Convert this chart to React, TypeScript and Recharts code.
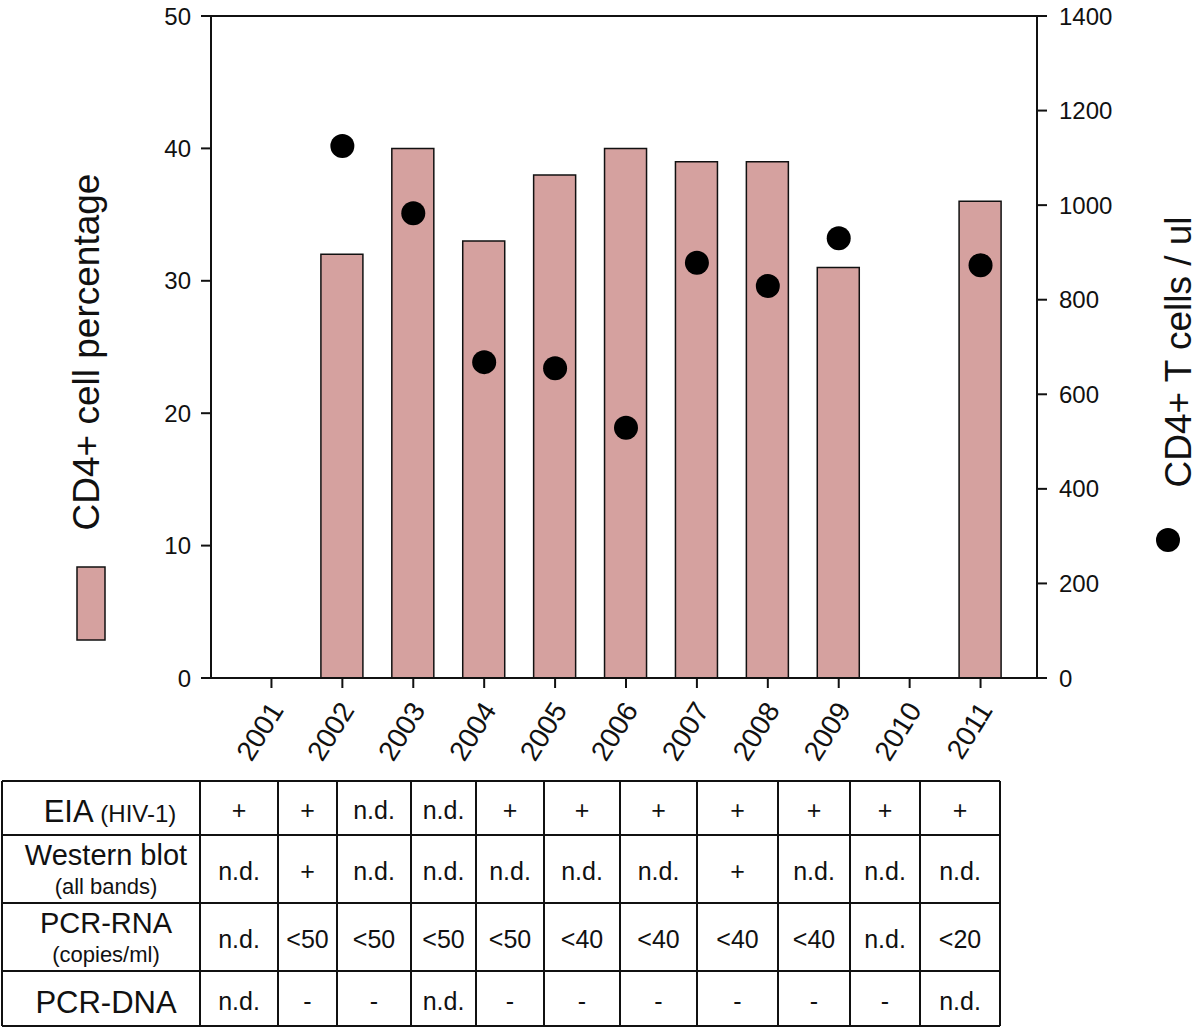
import { Bar, ComposedChart, Line, ReferenceLine, XAxis, YAxis } from 'recharts'

const years = ['2001', '2002', '2003', '2004', '2005', '2006', '2007', '2008', '2009', '2010', '2011']
const cd4Percent = [null, 32, 40, 33, 38, 40, 39, 39, 31, null, 36]
const cd4Cells = [null, 1125, 983, 668, 655, 529, 878, 829, 930, null, 873]

const leftTicks = [0, 10, 20, 30, 40, 50]
const rightTicks = [0, 200, 400, 600, 800, 1000, 1200, 1400]

// table under the chart
const rowLabels = [
  { main: 'EIA', sub: '(HIV-1)', inline: true },
  { main: 'Western blot', sub: '(all bands)', inline: false },
  { main: 'PCR-RNA', sub: '(copies/ml)', inline: false },
  { main: 'PCR-DNA', sub: '', inline: false },
]
const eiaRow = ['+', '+', 'n.d.', 'n.d.', '+', '+', '+', '+', '+', '+', '+']
const westernRow = ['n.d.', '+', 'n.d.', 'n.d.', 'n.d.', 'n.d.', 'n.d.', '+', 'n.d.', 'n.d.', 'n.d.']
const pcrRnaRow = ['n.d.', '<50', '<50', '<50', '<50', '<40', '<40', '<40', '<40', 'n.d.', '<20']
const pcrDnaRow = ['n.d.', '-', '-', 'n.d.', '-', '-', '-', '-', '-', '-', 'n.d.']
const tableRows = [eiaRow, westernRow, pcrRnaRow, pcrDnaRow]

const FONT = '"Liberation Sans", Arial, Helvetica, sans-serif'
const INK = '#111'
const BAR_FILL = '#d5a19f'

const colEdges = [2, 200, 278, 337, 411, 476, 544, 620, 697, 778, 850, 920, 1000]
const rowEdges = [781, 835, 903, 971, 1026]

const chartData = years.map((year, i) => ({ year, pct: cd4Percent[i], cells: cd4Cells[i] }))

function XTick(props: { x?: number; y?: number; payload?: { value?: string } }) {
  const x = (props.x ?? 0) + 13
  const y = (props.y ?? 0) + 20
  return (
    <text
      x={x}
      y={y}
      transform={`rotate(-58 ${x} ${y})`}
      textAnchor="end"
      fill={INK}
      fontSize={28}
      fontFamily={FONT}
    >
      {props.payload?.value}
    </text>
  )
}

function DataTable() {
  return (
    <g fontFamily={FONT} fill={INK}>
      {rowEdges.map((y, i) => (
        <line key={'h' + i} x1={colEdges[0]} x2={colEdges[colEdges.length - 1]} y1={y} y2={y} stroke={INK} strokeWidth={2} />
      ))}
      {colEdges.map((x, i) => (
        <line key={'v' + i} x1={x} x2={x} y1={rowEdges[0]} y2={rowEdges[rowEdges.length - 1]} stroke={INK} strokeWidth={2} />
      ))}
      {rowLabels.map((lab, r) => {
        const top = rowEdges[r]
        const bottom = rowEdges[r + 1]
        const cx = 106
        if (lab.inline) {
          return (
            <text key={'l' + r} x={cx + 4} y={top + 41} textAnchor="middle" fontSize={31}>
              {lab.main}
              <tspan fontSize={24}>{' ' + lab.sub}</tspan>
            </text>
          )
        }
        if (!lab.sub) {
          return (
            <text key={'l' + r} x={cx} y={(top + bottom) / 2 + 14} textAnchor="middle" fontSize={31}>
              {lab.main}
            </text>
          )
        }
        return (
          <g key={'l' + r}>
            <text x={cx} y={top + 30} textAnchor="middle" fontSize={29}>{lab.main}</text>
            <text x={cx} y={top + 59} textAnchor="middle" fontSize={22}>{lab.sub}</text>
          </g>
        )
      })}
      {tableRows.map((row, r) =>
        row.map((v, c) => {
          const cx = (colEdges[c + 1] + colEdges[c + 2]) / 2
          const cy = (rowEdges[r] + rowEdges[r + 1]) / 2
          return (
            <text key={r + '-' + c} x={cx} y={cy + 11} textAnchor="middle" fontSize={25}>
              {v}
            </text>
          )
        }),
      )}
    </g>
  )
}

export default function App() {
  return (
    <div style={{ position: 'absolute', left: 0, top: 0, width: 1200, height: 1028, background: '#fff', fontFamily: FONT }}>
      <ComposedChart
        width={1200}
        height={780}
        data={chartData}
        margin={{ top: 16, right: 0, bottom: 0, left: 0 }}
      >
        <XAxis
          dataKey="year"
          height={102}
          padding={{ left: 25, right: 21 }}
          axisLine={{ stroke: INK, strokeWidth: 2 }}
          tickLine={{ stroke: INK, strokeWidth: 2 }}
          tickSize={10}
          tick={<XTick />}
          interval={0}
        />
        <YAxis
          yAxisId="left"
          domain={[0, 50]}
          ticks={leftTicks}
          width={211}
          axisLine={{ stroke: INK, strokeWidth: 2 }}
          tickLine={{ stroke: INK, strokeWidth: 2 }}
          tickSize={10}
          tickMargin={10}
          tick={{ fill: INK, fontSize: 24, fontFamily: FONT }}
        />
        <YAxis
          yAxisId="right"
          orientation="right"
          domain={[0, 1400]}
          ticks={rightTicks}
          width={163}
          axisLine={{ stroke: INK, strokeWidth: 2 }}
          tickLine={{ stroke: INK, strokeWidth: 2 }}
          tickSize={10}
          tickMargin={12}
          tick={{ fill: INK, fontSize: 24, fontFamily: FONT }}
        />
        <ReferenceLine yAxisId="left" y={50} stroke={INK} strokeWidth={2} />
        <Bar
          yAxisId="left"
          dataKey="pct"
          fill={BAR_FILL}
          stroke={INK}
          strokeWidth={1.5}
          barSize={42}
          isAnimationActive={false}
        />
        <Line
          yAxisId="right"
          dataKey="cells"
          stroke="none"
          strokeWidth={0}
          dot={{ r: 12, fill: '#000', stroke: 'none' }}
          activeDot={false}
          isAnimationActive={false}
        />
      </ComposedChart>
      <svg
        width={1200}
        height={1028}
        style={{ position: 'absolute', left: 0, top: 0, pointerEvents: 'none' }}
      >
        <text
          x={99}
          y={352}
          transform="rotate(-90 99 352)"
          textAnchor="middle"
          fontSize={37}
          fontFamily={FONT}
          fill={INK}
        >
          CD4+ cell percentage
        </text>
        <rect x={77} y={567} width={28} height={73} fill={BAR_FILL} stroke={INK} strokeWidth={1.5} />
        <text
          x={1191}
          y={352}
          transform="rotate(-90 1191 352)"
          textAnchor="middle"
          fontSize={37}
          fontFamily={FONT}
          fill={INK}
        >
          CD4+ T cells / ul
        </text>
        <circle cx={1168} cy={540} r={12} fill="#000" />
        <DataTable />
      </svg>
    </div>
  )
}
